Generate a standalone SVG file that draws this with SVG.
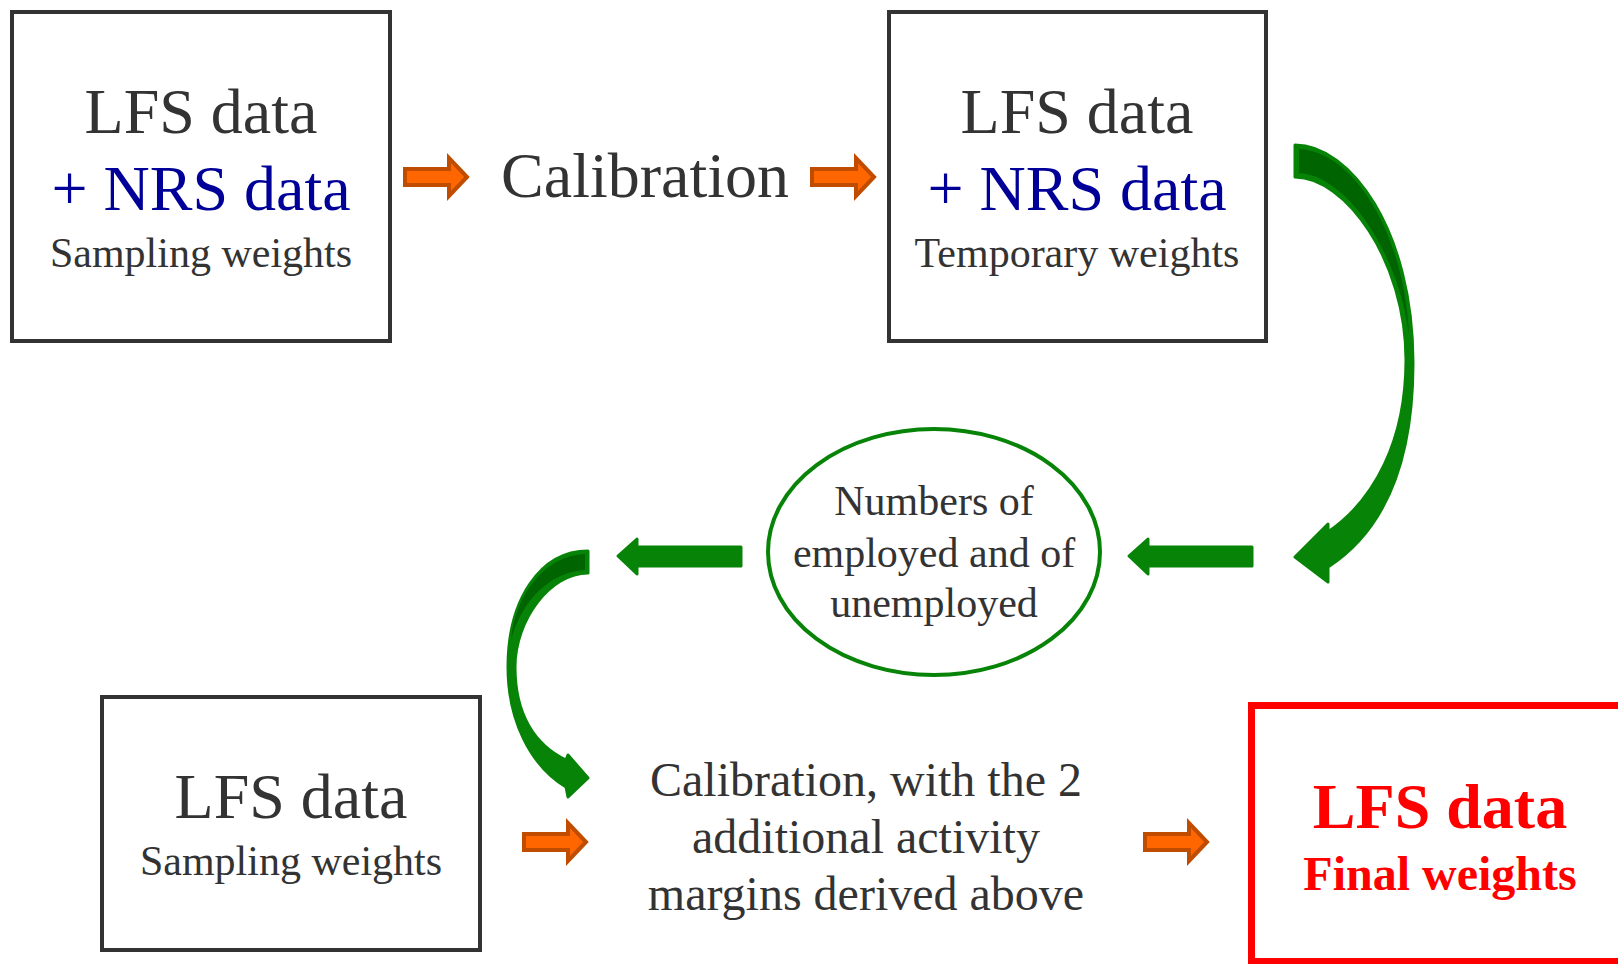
<svg xmlns="http://www.w3.org/2000/svg" width="1618" height="964" viewBox="0 0 1618 964">
<style>
.box{fill:#fff;stroke:#333;stroke-width:4}
.t{font-family:"Liberation Serif","Times New Roman",serif;fill:#333;text-anchor:middle}
.big{font-size:64px}
.sm{font-size:42px}
.md{font-size:48px}
.blue{fill:#000099}
.red{fill:#ff0000;font-weight:bold}
.org{fill:#ff6600;stroke:#c04c00;stroke-width:4}
.grn{fill:#078407;stroke:#078407;stroke-width:3;stroke-linejoin:round}
.dgr{fill:#006400}
</style>
<defs>
<path id="oarrow" d="M0,-8 H44 V-19 L62,0 L44,19 V8 H0 Z"/>
<path id="garrow" d="M0,0 L19,-17 V-9 H123 V10 H19 V18 Z"/>
</defs>
<rect width="1618" height="964" fill="#fff"/>
<g id="box1">
<rect class="box" x="12" y="12" width="378" height="329"/>
<text class="t big" x="201" y="133">LFS data</text>
<text class="t big blue" x="201" y="210">+ NRS data</text>
<text class="t sm" x="201" y="267">Sampling weights</text>
</g>
<g id="calib1">
<text class="t big" x="645" y="197">Calibration</text>
</g>
<g id="box2">
<rect class="box" x="889" y="12" width="377" height="329"/>
<text class="t big" x="1077" y="133">LFS data</text>
<text class="t big blue" x="1077" y="210">+ NRS data</text>
<text class="t sm" x="1077" y="267">Temporary weights</text>
</g>
<g id="ellipse">
<ellipse cx="934" cy="552" rx="166" ry="123" fill="#fff" stroke="#078407" stroke-width="4"/>
<text class="t sm" x="934" y="515">Numbers of</text>
<text class="t sm" x="934" y="567">employed and of</text>
<text class="t sm" x="934" y="617">unemployed</text>
</g>
<g id="box3">
<rect class="box" x="102" y="697" width="378" height="253"/>
<text class="t big" x="291" y="818">LFS data</text>
<text class="t sm" x="291" y="875">Sampling weights</text>
</g>
<g id="calib2">
<text class="t md" x="866" y="796">Calibration, with the 2</text>
<text class="t md" x="866" y="853">additional activity</text>
<text class="t md" x="866" y="910">margins derived above</text>
</g>
<g id="final">
<rect x="1251.5" y="705.5" width="378" height="256" fill="#fff" stroke="#ff0000" stroke-width="7"/>
<text class="t big red" x="1440" y="828">LFS data</text>
<text class="t md red" x="1440" y="890">Final weights</text>
</g>
<g id="connectors">
<use href="#oarrow" class="org" transform="translate(405,177)"/>
<use href="#oarrow" class="org" transform="translate(812,177)"/>
<use href="#oarrow" class="org" transform="translate(524,842)"/>
<use href="#oarrow" class="org" transform="translate(1145,842)"/>
<use href="#garrow" class="grn" transform="translate(1129,556)"/>
<use href="#garrow" class="grn" transform="translate(618,556)"/>
<path class="grn" d="M1295,145 C1350,145 1413,230 1413,363 C1413,460 1385,530 1328,567 L1328,582 L1295,557 L1328,524 L1328,532 C1375,500 1406,440 1406,360 C1406,260 1345,177 1295,177 Z"/>
<path class="dgr" d="M1299,149 C1352,151 1404,230 1409,335 C1398,250 1345,175 1299,173 Z"/>
<path class="grn" d="M588,551 C540,551 508,600 508,667 C508,720 530,765 566,787 L568,797 L588,778 L568,755 L566,760 C535,745 515,715 515,667 C515,620 550,573 588,573 Z"/>
<path class="dgr" d="M585,554 C545,555 515,595 511,640 C522,600 550,572 585,570 Z"/>
</g>
</svg>
